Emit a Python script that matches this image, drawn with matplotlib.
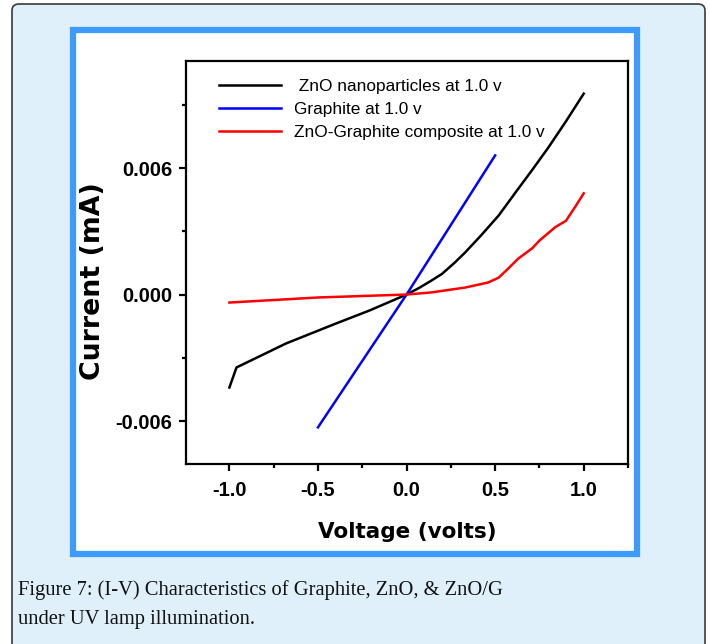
import matplotlib.pyplot as plt
from matplotlib.patches import FancyBboxPatch, Rectangle
from matplotlib.ticker import MultipleLocator

# I-V readings (volts, mA)
zno_v = [-1.0, -0.96, -0.68, -0.40, -0.21, 0.0, 0.07, 0.14, 0.20, 0.27, 0.33, 0.42, 0.52, 0.62,
         0.71, 0.80, 0.90, 1.0]
zno_i = [-0.00441, -0.00346, -0.00232, -0.00138, -0.00076, 0.0, 0.00031, 0.00066, 0.00098,
         0.00150, 0.00199, 0.00280, 0.00375, 0.00490, 0.00592, 0.00697, 0.00822, 0.00953]

graphite_v = [-0.5, 0.0, 0.5]
graphite_i = [-0.0063, 0.0, 0.0066]

comp_v = [-1.0, -0.5, 0.0, 0.14, 0.33, 0.46, 0.52, 0.57, 0.63, 0.71, 0.75, 0.84, 0.90, 0.955, 1.0]
comp_i = [-0.00038, -0.00014, 0.0, 0.0001, 0.00033, 0.00057, 0.00080, 0.00120, 0.0017,
          0.0022, 0.00256, 0.0032, 0.0035, 0.0042, 0.0048]

labels = [' ZnO nanoparticles at 1.0 v', 'Graphite at 1.0 v', 'ZnO-Graphite composite at 1.0 v']
caption = 'Figure 7: (I-V) Characteristics of Graphite, ZnO, & ZnO/G\nunder UV lamp illumination.'

W, H = 710, 644
fig = plt.figure(figsize=(W / 100, H / 100), dpi=100)
fig.patch.set_facecolor('white')

# light blue panel with rounded corners
panel = FancyBboxPatch((12 / W, -20 / H), 693 / W, (H - 4 + 20) / H,
                       boxstyle='round,pad=0,rounding_size=0.01',
                       transform=fig.transFigure, facecolor='#dff0fb',
                       edgecolor='#3a3a3a', linewidth=1.2, zorder=0)
fig.patches.append(panel)

# white plot area inside a blue frame
frame = Rectangle((73 / W, 1 - 554 / H), 564 / W, 524 / H,
                  transform=fig.transFigure, facecolor='white',
                  edgecolor='#3d9bff', linewidth=4.5, zorder=1)
fig.patches.append(frame)

ax = fig.add_axes([186 / W, 1 - 464 / H, 442 / W, 403 / H])
ax.set_zorder(2)

ax.plot(zno_v, zno_i, color='black', lw=1.8, label=labels[0])
ax.plot(graphite_v, graphite_i, color='#0000ff', lw=1.8, label=labels[1])
ax.plot(comp_v, comp_i, color='#ff0000', lw=1.8, label=labels[2])

ax.set_xlim(-1.245, 1.25)
ax.set_ylim(-0.00804, 0.01108)

ax.xaxis.set_minor_locator(MultipleLocator(0.25))
ax.yaxis.set_minor_locator(MultipleLocator(0.003))
ax.set_xticks([-1.0, -0.5, 0.0, 0.5, 1.0])
ax.set_xticklabels(['-1.0', '-0.5', '0.0', '0.5', '1.0'])
ax.set_yticks([-0.006, 0.0, 0.006])
ax.set_yticklabels(['-0.006', '0.000', '0.006'])

ax.tick_params(which='major', direction='out', length=5, width=1.6, pad=5)
ax.tick_params(which='minor', direction='out', length=3, width=1.6)
for lab in ax.get_xticklabels() + ax.get_yticklabels():
    lab.set_family('Liberation Sans')
    lab.set_weight('bold')
    lab.set_fontsize(14.5)
ax.tick_params(axis='x', pad=7)

for s in ax.spines.values():
    s.set_linewidth(1.6)

ax.set_xlabel('Voltage (volts)', family='DejaVu Sans', weight='bold', fontsize=15.5, labelpad=16)
ax.set_ylabel('Current (mA)', family='DejaVu Sans', weight='bold', fontsize=19.3)
ax.yaxis.set_label_coords(-0.181, 0.454)

ax.legend(loc='upper left', bbox_to_anchor=(0.04, 0.993), frameon=False,
          prop={'family': 'Liberation Sans', 'size': 12.4},
          handlelength=3.6, handletextpad=0.75, labelspacing=0.45)

fig.text(18 / W, 1 - 580 / H, caption, family='Liberation Serif', fontsize=14.8,
         va='top', ha='left', linespacing=1.7, color='#111111')

fig.savefig('out.png', dpi=100, facecolor=fig.get_facecolor())
